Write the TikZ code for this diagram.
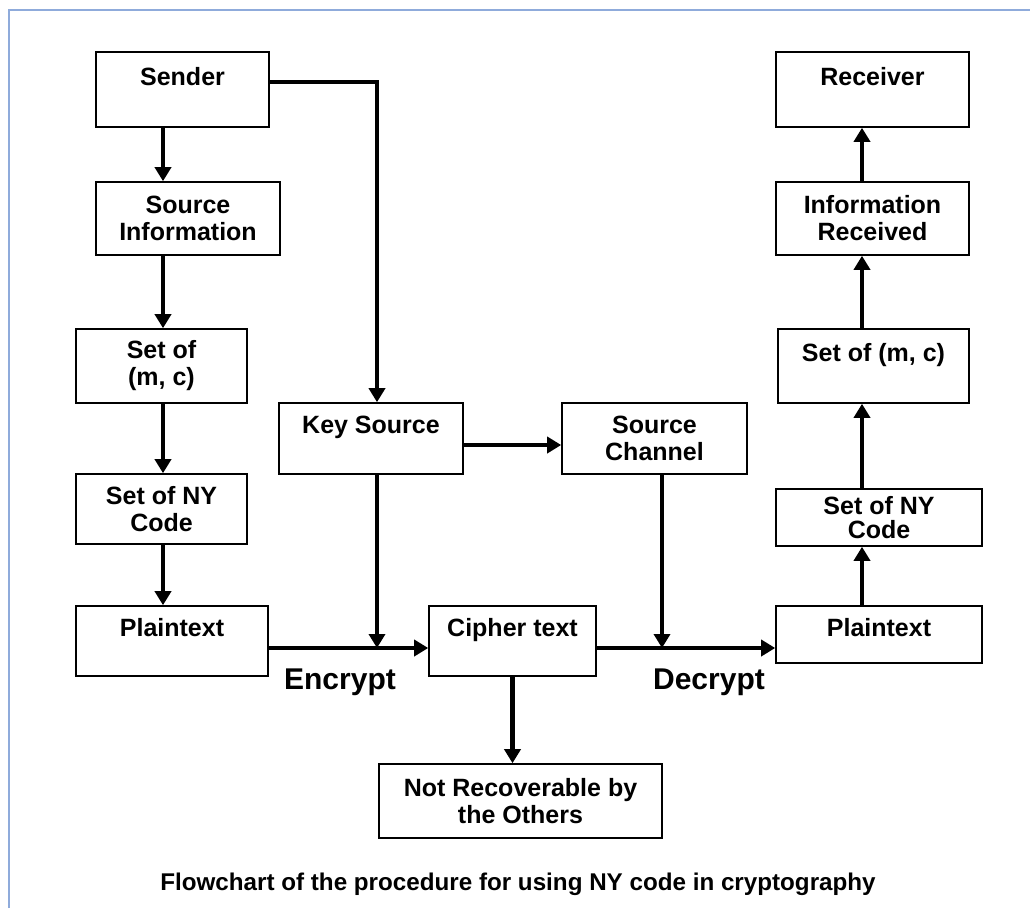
\documentclass[tikz,border=0pt]{standalone}
\usepackage{fontspec}
\setmainfont{Liberation Sans}
\usepackage{tikz}
\usetikzlibrary{arrows.meta,positioning,calc}

\definecolor{frameblue}{RGB}{143,171,219}

\begin{document}
\begin{tikzpicture}[x=1pt, y=-1pt,
  every node/.style={font=\fontsize{25}{27}\selectfont\bfseries},
  box/.style={draw, line width=1.6pt, align=center, inner sep=0pt},
  arr/.style={line width=4.4pt, -{Triangle[length=14pt,width=16pt]}},
  lnk/.style={line width=4.4pt}]
        \useasboundingbox (0,0) rectangle (1030,908);
        \draw[frameblue, line width=2pt] (9,908) -- (9,10) -- (1030,10);

        % Sender side
        \node[box, minimum width=173pt, minimum height=75pt] (snd) at (182.5,89.5) {Sender\\\mbox{}};
        \node[box, minimum width=184pt, minimum height=73pt] (srcinfo) at (188,218.5) {Source\\Information};
        \node[box, minimum width=171pt, minimum height=74pt] (setmc1) at (161.5,366) {Set of\\(m, c)};
        \node[box, minimum width=171pt, minimum height=70pt] (setny1) at (161.5,509) {Set of NY\\Code};
        \node[box, minimum width=192pt, minimum height=70pt] (plain1) at (172,641) {Plaintext\\\mbox{}};

        % Key and channel
        \node[box, minimum width=184pt, minimum height=71pt] (key) at (371,438.5) {Key Source\\\mbox{}};
        \node[box, minimum width=185pt, minimum height=71pt] (chan) at (654.5,438.5) {Source\\Channel};
        \node[box, minimum width=167pt, minimum height=70pt] (cipher) at (512.5,641) {Cipher text\\\mbox{}};
        \node[box, minimum width=283pt, minimum height=74pt] (notrec) at (520.5,801) {Not Recoverable by\\the Others};

        % Receiver side
        \node[box, minimum width=193pt, minimum height=75pt] (rcv) at (872.5,89.5) {Receiver\\\mbox{}};
        \node[box, minimum width=193pt, minimum height=73pt] (inforcv) at (872.5,218.5) {Information\\Received};
        \node[box, minimum width=191pt, minimum height=74pt] (setmc2) at (873.5,366) {Set of (m, c)\\\mbox{}};
        \node[box, minimum width=206pt, minimum height=57pt] (setny2) at (879,517.5) {Set of NY\\[-3pt]Code};
        \node[box, minimum width=206pt, minimum height=57pt] (plain2) at (879,634.5) {Plaintext\\[-12pt]\mbox{}};

        % Labels
        \node[font=\fontsize{30}{32}\selectfont\bfseries] (enclbl) at (340,682) {Encrypt};
        \node[font=\fontsize{30}{32}\selectfont\bfseries] (declbl) at (709,682) {Decrypt};
        \node[font=\fontsize{24.2}{27}\selectfont\bfseries] (caption) at (518,884) {Flowchart of the procedure for using NY code in cryptography};

        % Junctions
        \coordinate (lcol) at (163,0);
        \coordinate (rcol) at (862,0);
        \coordinate (corner) at (377,82);
        \coordinate (enc) at (377,648);
        \coordinate (dec) at (662,648);

        % Connections
        \draw[arr] (snd.south -| lcol) -- (srcinfo.north -| lcol);
        \draw[arr] (srcinfo.south -| lcol) -- (setmc1.north -| lcol);
        \draw[arr] (setmc1.south -| lcol) -- (setny1.north -| lcol);
        \draw[arr] (setny1.south -| lcol) -- (plain1.north -| lcol);
        \draw[arr] (snd.east |- corner) -- (corner) -- (key.north -| corner);
        \draw[arr] ([yshift=-6.5pt]key.east) -- ([yshift=-6.5pt]chan.west);
        \draw[arr] (plain1.east |- enc) -- (cipher.west |- enc);
        \draw[arr] (key.south -| enc) -- (enc);
        \draw[arr] (chan.south -| dec) -- (dec);
        \draw[arr] (cipher.east |- dec) -- (plain2.west |- dec);
        \draw[arr] (cipher.south) -- (notrec.north -| cipher.south);
        \draw[arr] (plain2.north -| rcol) -- (setny2.south -| rcol);
        \draw[arr] (setny2.north -| rcol) -- (setmc2.south -| rcol);
        \draw[arr] (setmc2.north -| rcol) -- (inforcv.south -| rcol);
        \draw[arr] (inforcv.north -| rcol) -- (rcv.south -| rcol);
\end{tikzpicture}
\end{document}
